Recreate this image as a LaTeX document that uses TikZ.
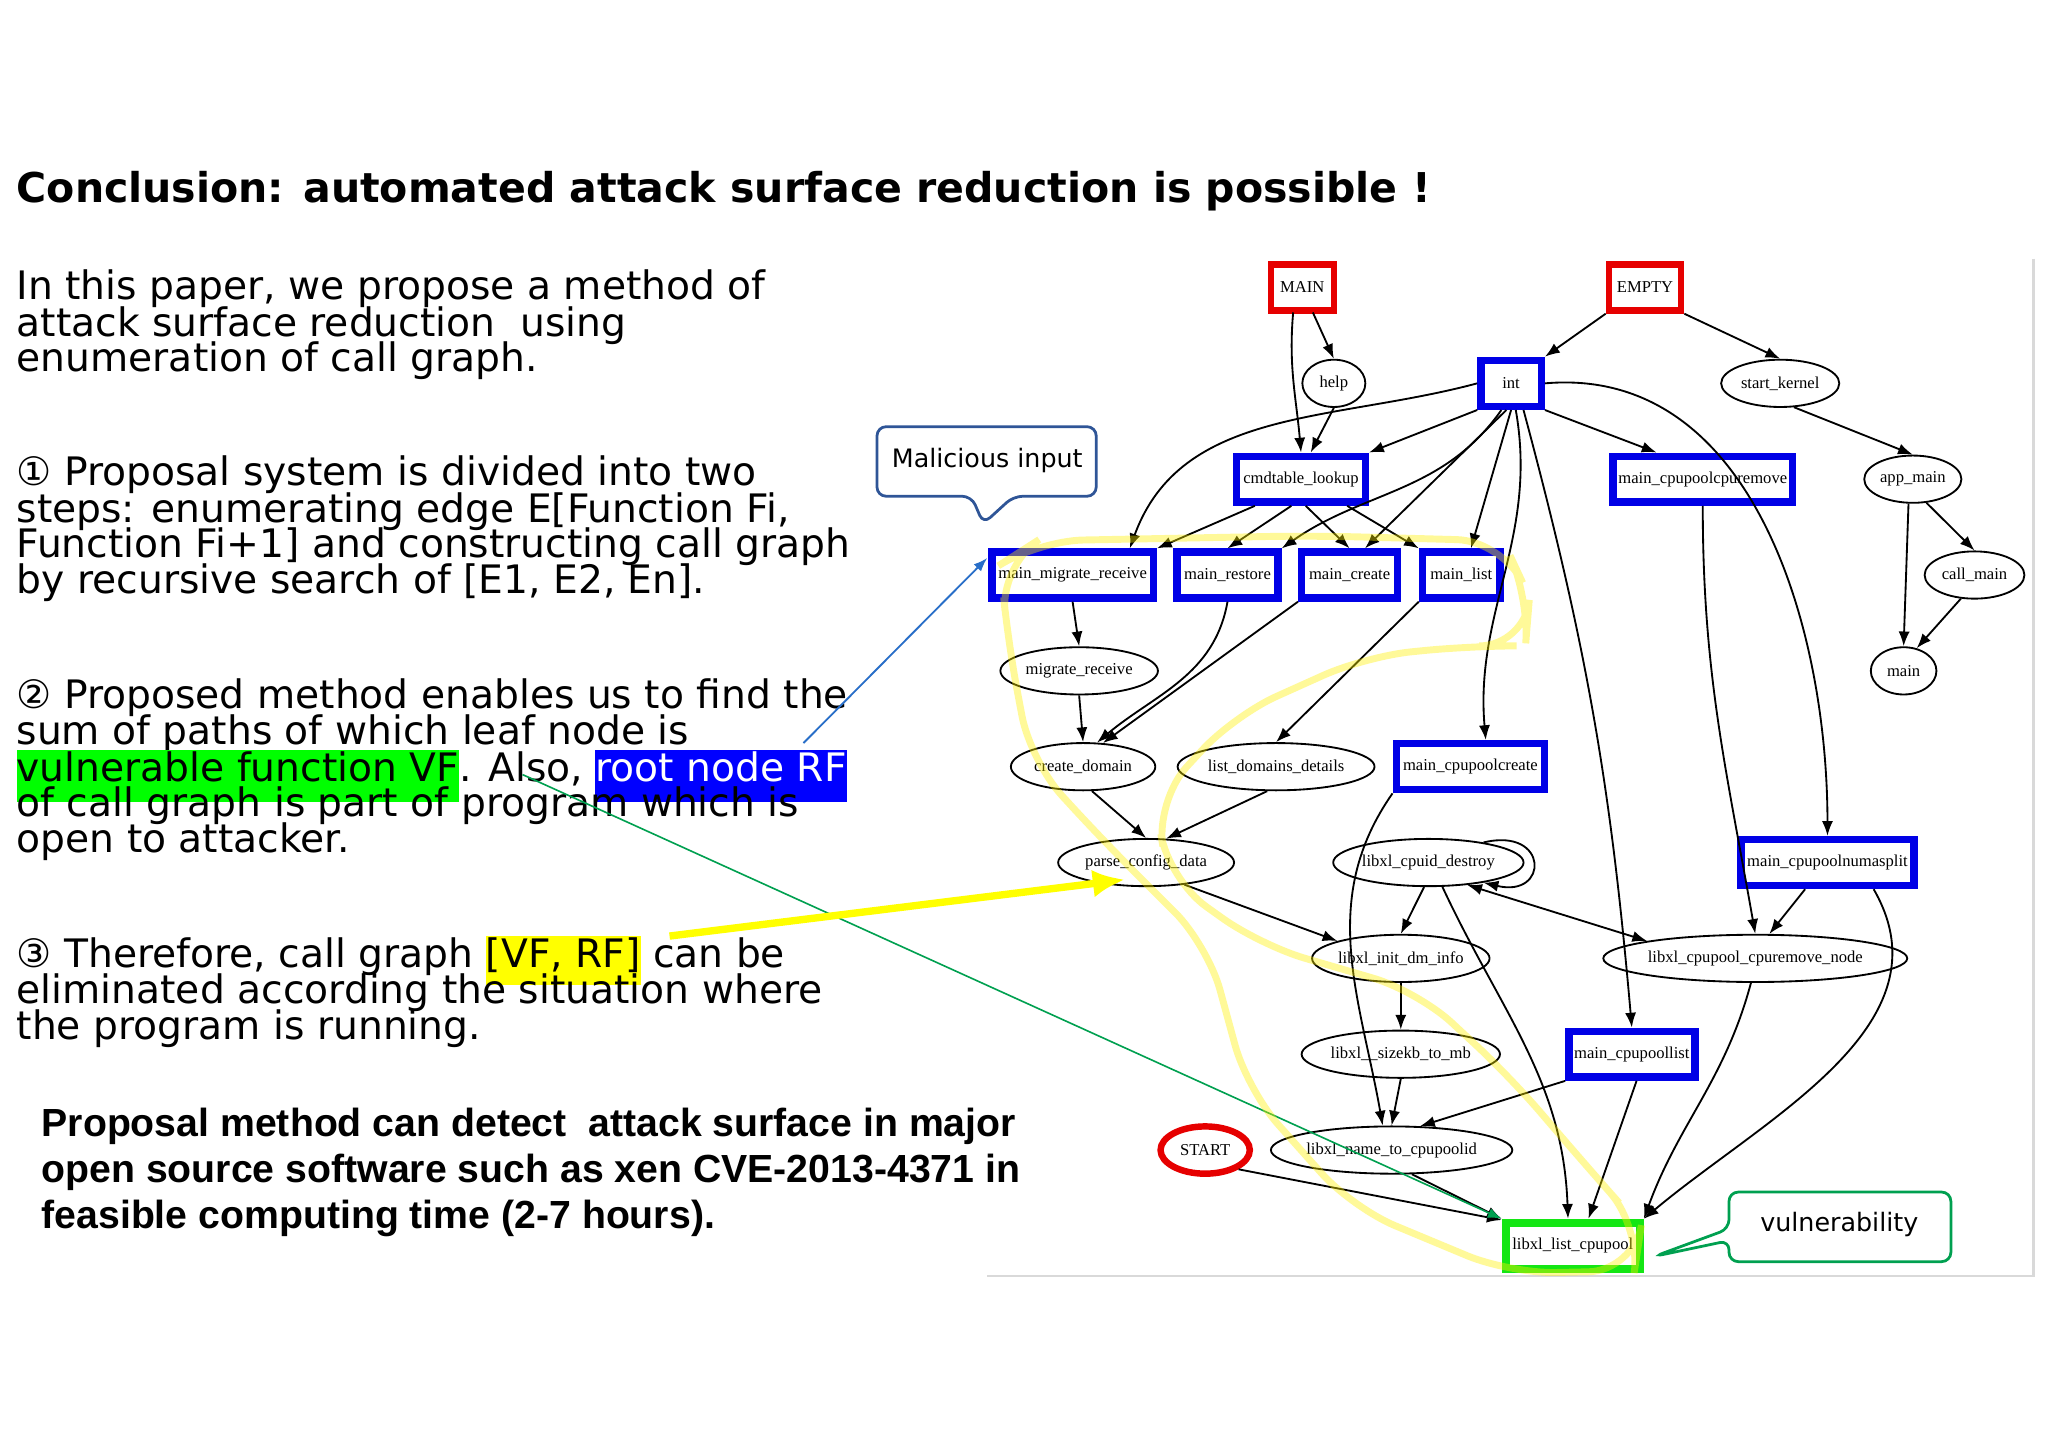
\documentclass[tikz,border=0pt]{standalone}
\usepackage{fontspec}
\usetikzlibrary{shapes.geometric,arrows.meta}
\newfontfamily\bodyf{DejaVu Sans}
\newfontfamily\gf{Liberation Serif}
\newfontfamily\boldf{Liberation Sans}
\definecolor{gblue}{RGB}{0,0,230}
\definecolor{gred}{RGB}{230,0,0}
\definecolor{ggreen}{RGB}{20,230,20}
\definecolor{cblue}{RGB}{47,85,151}
\definecolor{cgreen}{RGB}{0,160,80}
\definecolor{hlgreen}{RGB}{0,255,0}
\definecolor{hlblue}{RGB}{0,0,255}
\definecolor{hlyellow}{RGB}{255,255,0}
\definecolor{pblue}{RGB}{40,110,200}
\tikzset{
 gtext/.style={font=\gf\fontsize{3.6}{3.6}\selectfont},
 bx/.style={gtext,draw=gblue,line width=1.6pt,fill=white,minimum height=0.35cm,inner sep=1pt},
 rbx/.style={gtext,draw=gred,line width=1.4pt,fill=white,minimum height=0.35cm,inner sep=1pt},
 gbx/.style={gtext,draw=ggreen,line width=1.8pt,fill=white,minimum height=0.35cm,inner sep=1pt},
 el/.style={gtext,ellipse,draw,line width=0.4pt,minimum height=0.36cm,inner sep=0pt},
 ed/.style={-{Latex[length=3.2pt,width=2.4pt]},line width=0.4pt},
 txt/.style={anchor=base west,inner sep=0pt,font=\bodyf\fontsize{8.5}{8.5}\selectfont},
 btxt/.style={anchor=base west,inner sep=0pt,font=\boldf\bfseries\fontsize{8.5}{8.5}\selectfont},
 ctxt/.style={font=\bodyf\fontsize{5.5}{5.5}\selectfont},
}
\begin{document}
\begin{tikzpicture}
\fill[white] (0,0) rectangle (15.6,-11.03);
\useasboundingbox (0,0) rectangle (15.6,-11.03);
% title
\node[anchor=base west,inner sep=0pt,font=\bodyf\bfseries\fontsize{8.9}{8.9}\selectfont] (title) at (0.12,-1.54) {Conclusion: automated attack surface reduction is possible !};
% text
\node[txt] (p1a) at (0.12,-2.28) {In this paper, we propose a method of};
\node[txt] (p1b) at (0.12,-2.56) {attack surface reduction\ \ using};
\node[txt] (p1c) at (0.12,-2.83) {enumeration of call graph.};
\node[txt] (p2a) at (0.12,-3.70) {① Proposal system is divided into two};
\node[txt] (p2b) at (0.12,-3.98) {steps: enumerating edge E[Function Fi,};
\node[txt] (p2c) at (0.12,-4.25) {Function Fi+1] and constructing call graph};
\node[txt] (p2d) at (0.12,-4.52) {by recursive search of [E1, E2, En].};
\node[txt] (p3a) at (0.12,-5.40) {② Proposed method enables us to find the};
\node[txt] (p3b) at (0.12,-5.67) {sum of paths of which leaf node is};
\node[txt] (p3c) at (0.12,-5.95) {\setlength\fboxsep{0pt}\colorbox{hlgreen}{\rule[-1.6mm]{0pt}{4mm}vulnerable function VF}. Also, \colorbox{hlblue}{\rule[-1.6mm]{0pt}{4mm}\textcolor{white}{root node RF}}};
\node[txt] (p3d) at (0.12,-6.22) {of call graph is part of program which is};
\node[txt] (p3e) at (0.12,-6.49) {open to attacker.};
\node[txt] (p4a) at (0.12,-7.37) {③ Therefore, call graph \setlength\fboxsep{0pt}\colorbox{hlyellow}{\rule[-1.3mm]{0pt}{3.7mm}[VF, RF]} can be};
\node[txt] (p4b) at (0.12,-7.64) {eliminated according the situation where};
\node[txt] (p4c) at (0.12,-7.92) {the program is running.};
\node[btxt] (b1) at (0.31,-8.66) {Proposal method can detect\ \ attack surface in major};
\node[btxt] (b2) at (0.31,-9.01) {open source software such as xen CVE-2013-4371 in};
\node[btxt] (b3) at (0.31,-9.36) {feasible computing time (2-7 hours).};
% frame
\draw[black!15,line width=0.6pt] (15.49,-1.97) -- (15.49,-9.72) -- (7.52,-9.72);
% nodes
\node[rbx,minimum width=0.48cm] (MAIN) at (9.92,-2.19) {MAIN};
\node[rbx,minimum width=0.55cm] (EMPTY) at (12.53,-2.19) {EMPTY};
\node[el,minimum width=0.48cm] (help) at (10.16,-2.92) {help};
\node[bx,minimum width=0.46cm] (int) at (11.51,-2.92) {int};
\node[el,minimum width=0.90cm] (sk) at (13.56,-2.92) {start\_kernel};
\node[bx,minimum width=0.98cm] (cmd) at (9.91,-3.65) {cmdtable\_lookup};
\node[bx,minimum width=1.37cm] (mcpr) at (12.97,-3.65) {main\_cpupoolcpuremove};
\node[el,minimum width=0.74cm] (app) at (14.57,-3.65) {app\_main};
\node[bx,minimum width=1.23cm] (mmr) at (8.17,-4.38) {main\_migrate\_receive};
\node[bx,minimum width=0.77cm] (mre) at (9.35,-4.38) {main\_restore};
\node[bx,minimum width=0.73cm] (mcr) at (10.28,-4.38) {main\_create};
\node[bx,minimum width=0.59cm] (mli) at (11.13,-4.38) {main\_list};
\node[el,minimum width=0.76cm] (call) at (15.04,-4.38) {call\_main};
\node[el,minimum width=1.20cm] (mig) at (8.22,-5.11) {migrate\_receive};
\node[el,minimum width=0.50cm] (mainn) at (14.50,-5.11) {main};
\node[el,minimum width=1.10cm] (cd) at (8.25,-5.84) {create\_domain};
\node[el,minimum width=1.50cm] (ldd) at (9.72,-5.84) {list\_domains\_details};
\node[bx,minimum width=1.13cm] (mcc) at (11.20,-5.84) {main\_cpupoolcreate};
\node[el,minimum width=1.34cm] (pcd) at (8.73,-6.57) {parse\_config\_data};
\node[el,minimum width=1.45cm] (cid) at (10.88,-6.57) {libxl\_cpuid\_destroy};
\node[bx,minimum width=1.32cm] (mns) at (13.92,-6.57) {main\_cpupoolnumasplit};
\node[el,minimum width=1.35cm] (idm) at (10.67,-7.30) {libxl\_init\_dm\_info};
\node[el,minimum width=2.22cm] (crn) at (13.37,-7.30) {libxl\_cpupool\_cpuremove\_node};
\node[el,minimum width=1.50cm] (skb) at (10.67,-8.03) {libxl\_\_sizekb\_to\_mb};
\node[bx,minimum width=0.96cm] (mcl) at (12.43,-8.03) {main\_cpupoollist};
\node[el,draw=gred,line width=1.4pt,minimum width=0.68cm,minimum height=0.36cm] (START) at (9.18,-8.76) {START};
\node[el,minimum width=1.80cm] (ntc) at (10.60,-8.76) {libxl\_name\_to\_cpupoolid};
\node[gbx,minimum width=1.02cm] (llc) at (11.98,-9.49) {libxl\_list\_cpupool};
% edges
\coordinate (m1) at (10.00,-2.38);
\coordinate (m2) at (9.85,-2.38);
\draw[ed] (m1) -- (help.north);
\draw[ed] (m2) to[out=-95,in=95] (cmd.north);
\draw[ed] (help.south) -- (cmd.70);
\draw[ed] (EMPTY.south west) -- (int.north east);
\draw[ed] (EMPTY.south east) -- (sk.north);
\draw[ed] (int.west) to[out=195,in=70] (mmr.25);
\draw[ed] (int.south west) -- (cmd.north east);
\draw[ed] (int.-110) to[out=235,in=35] (mre.north east);
\draw[ed] (int.-100) -- (mcr.60);
\draw[ed] (int.-90) -- (mli.70);
\draw[ed] (int.-80) to[out=-80,in=95] (mcc.60);
\draw[ed] (int.-65) to[out=-75,in=95] (mcl.north);
\draw[ed] (int.south east) -- (mcpr.150);
\draw[ed] (int.east) to[out=5,in=90] (mns.north);
\draw[ed] (sk.-60) -- (app.north);
\draw[ed] (app.-60) -- (call.north);
\draw[ed] (app.-100) -- (mainn.north);
\draw[ed] (call.-120) -- (mainn.60);
\draw[ed] (cmd.-150) -- (mmr.north east);
\draw[ed] (cmd.-110) -- (mre.north);
\draw[ed] (cmd.-80) -- (mcr.north);
\draw[ed] (cmd.-30) -- (mli.north west);
\draw[ed] (mmr.south) -- (mig.north);
\draw[ed] (mig.south) -- (cd.north);
\draw[ed] (mre.south) to[out=-100,in=40] (cd.60);
\draw[ed] (mcr.south west) -- (cd.50);
\draw[ed] (mli.south west) -- (ldd.north);
\draw[ed] (cd.-70) -- (pcd.north);
\draw[ed] (ldd.-110) -- (pcd.50);
\draw[ed] (mcc.south west) to[out=235,in=100] (ntc.110);
\draw[ed] (mcpr.south) to[out=-90,in=100] (crn.north);
\draw[ed] (pcd.-30) -- (idm.north west);
\draw[ed] (cid.-100) -- (idm.north);
\draw[ed] (cid.20) .. controls +(0.5,0.12) and +(0.5,-0.12) .. (cid.-20);
\draw[ed] (cid.-60) to[out=-65,in=92] (llc.100);
\draw[ed,{Latex[length=3.2pt,width=2.4pt]}-{Latex[length=3.2pt,width=2.4pt]}] (cid.-30) -- (crn.north west);
\draw[ed] (mns.-130) -- (crn.60);
\draw[ed] (mns.-30) to[out=-60,in=40] (llc.north east);
\draw[ed] (idm.south) -- (skb.north);
\draw[ed] (skb.south) -- (ntc.north);
\draw[ed] (mcl.south west) -- (ntc.40);
\draw[ed] (mcl.-80) -- (llc.60);
\draw[ed] (crn.-100) to[out=-105,in=70] (llc.north east);
\draw[ed] (ntc.-50) -- (llc.north west);
\draw[ed] (START.-30) -- (llc.160);
% callouts
\draw[cblue,line width=0.6pt,rounded corners=2pt,fill=white] (6.68,-3.25) -- (8.35,-3.25) -- (8.35,-3.78) -- (7.72,-3.78) -- (7.49,-3.99) -- (7.40,-3.78) -- (6.68,-3.78) -- cycle;
\node[ctxt] (mal) at (7.52,-3.51) {Malicious input};
\draw[cgreen,line width=0.6pt,rounded corners=2pt,fill=white] (13.17,-9.08) -- (14.86,-9.08) -- (14.86,-9.61) -- (13.17,-9.61) -- (13.17,-9.45) -- (12.60,-9.57) -- (13.17,-9.36) -- cycle;
\node[ctxt] (vul) at (14.01,-9.33) {vulnerability};
% pointers
\coordinate (rf) at (6.12,-5.66);
\coordinate (mmrtip) at (7.52,-4.25);
\draw[-{Latex[length=3pt,width=2.2pt]},pblue,line width=0.4pt] (rf) -- (mmrtip);
\coordinate (vf) at (3.98,-5.90);
\draw[-{Latex[length=3pt,width=2.2pt]},cgreen,line width=0.35pt] (vf) -- (llc.north west);
\coordinate (vfrf) at (5.10,-7.13);
\coordinate (pcdtip) at (8.57,-6.70);
\draw[-{Latex[length=7pt,width=6pt]},hlyellow,line width=1.6pt] (vfrf) -- (pcdtip);
% freehand highlight
\draw[yellow,opacity=0.4,line width=1.5pt,rounded corners=10pt]
 (7.62,-4.30) -- (7.9,-4.12) -- (10.0,-4.08) -- (11.45,-4.12) -- (11.65,-4.55) -- (11.62,-4.92)
 -- (11.2,-4.92) -- (10.4,-5.0) -- (9.4,-5.45) -- (8.8,-6.1) -- (8.9,-6.7) -- (9.6,-7.2)
 -- (10.8,-7.55) -- (11.5,-8.2) -- (12.1,-8.9) -- (12.5,-9.35) -- (12.45,-9.68) -- (11.5,-9.70)
 -- (10.3,-9.2) -- (9.5,-8.3) -- (9.2,-7.2) -- (8.4,-6.4) -- (7.85,-5.8) -- (7.68,-4.9) -- cycle;
\end{tikzpicture}
\end{document}
